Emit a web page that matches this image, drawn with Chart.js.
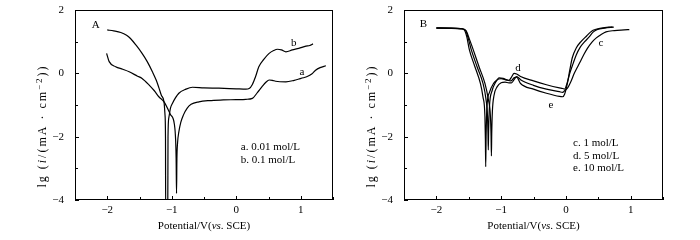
<!DOCTYPE html>
<html>
<head>
<meta charset="utf-8">
<script src="https://cdn.jsdelivr.net/npm/chart.js@4.4.0/dist/chart.umd.min.js"></script>
<style>
  body { margin: 0; background: #fff; }
  #wrap { position: relative; width: 700px; height: 240px; }
  canvas { position: absolute; top: 0; }
</style>
</head>
<body>
<div id="wrap">
  <canvas id="chart-a" width="350" height="240" style="left:0"></canvas>
  <canvas id="chart-b" width="350" height="240" style="left:350px"></canvas>
</div>
<script>
// --- Data (potential in V vs SCE, lg i) ---
const xMin = -2.5, xMax = 1.5, yMin = -4, yMax = 2;

// Panel A, curve a: 0.01 mol/L
const potA1 = [-2.01, -1.97, -1.87, -1.76, -1.66, -1.53, -1.46, -1.35, -1.27, -1.2, -1.12, -1.02, -0.96, -0.94, -0.932, -0.926, -0.92, -0.91, -0.89, -0.86, -0.82, -0.76, -0.7, -0.58, -0.42, -0.2, 0.0, 0.15, 0.25, 0.33, 0.4, 0.46, 0.51, 0.56, 0.61, 0.77, 0.9, 0.97, 1.04, 1.1, 1.17, 1.23, 1.3, 1.39];
const lgA1  = [0.63, 0.37, 0.21, 0.13, 0.05, -0.09, -0.16, -0.37, -0.55, -0.74, -0.9, -1.3, -1.6, -2.1, -2.7, -3.79, -2.7, -2.2, -1.85, -1.55, -1.32, -1.1, -0.98, -0.9, -0.86, -0.84, -0.83, -0.82, -0.79, -0.6, -0.42, -0.28, -0.21, -0.22, -0.25, -0.27, -0.22, -0.18, -0.14, -0.1, -0.02, 0.1, 0.18, 0.24];

// Panel A, curve b: 0.1 mol/L
const potA2 = [-2.0, -1.9, -1.79, -1.7, -1.64, -1.55, -1.46, -1.38, -1.3, -1.24, -1.2, -1.16, -1.12, -1.105, -1.097, -1.094, -1.062, -1.058, -1.045, -1.02, -0.99, -0.89, -0.78, -0.68, -0.5, -0.27, 0.0, 0.15, 0.2, 0.25, 0.3, 0.35, 0.43, 0.51, 0.58, 0.64, 0.7, 0.77, 0.87, 0.97, 1.08, 1.14, 1.19];
const lgA2  = [1.37, 1.34, 1.29, 1.2, 1.1, 0.88, 0.63, 0.37, 0.05, -0.22, -0.45, -0.7, -0.9, -1.3, -2.0, -4.5, -4.5, -2.0, -1.4, -1.1, -0.95, -0.63, -0.5, -0.44, -0.46, -0.47, -0.49, -0.5, -0.48, -0.35, -0.1, 0.21, 0.45, 0.63, 0.72, 0.76, 0.74, 0.68, 0.74, 0.79, 0.86, 0.88, 0.93];

// Panel B, curve c: 1 mol/L
const potB1 = [-2.0, -1.8, -1.6, -1.54, -1.49, -1.43, -1.34, -1.25, -1.2, -1.165, -1.155, -1.15, -1.145, -1.135, -1.11, -1.06, -1.0, -0.94, -0.88, -0.84, -0.8, -0.76, -0.7, -0.5, -0.3, -0.1, -0.05, -0.02, 0.03, 0.08, 0.13, 0.18, 0.23, 0.28, 0.33, 0.4, 0.47, 0.54, 0.62, 0.75, 0.9, 0.98];
const lgB1  = [1.43, 1.42, 1.4, 1.34, 1.08, 0.74, 0.2, -0.32, -0.8, -1.37, -2.0, -2.61, -1.9, -1.2, -0.7, -0.42, -0.3, -0.28, -0.3, -0.3, -0.2, -0.1, -0.2, -0.38, -0.5, -0.58, -0.6, -0.55, -0.45, -0.25, 0.0, 0.2, 0.4, 0.6, 0.78, 0.98, 1.12, 1.22, 1.31, 1.35, 1.37, 1.38];

// Panel B, curve d: 5 mol/L
const potB2 = [-2.0, -1.8, -1.6, -1.55, -1.51, -1.46, -1.37, -1.28, -1.235, -1.21, -1.203, -1.198, -1.193, -1.18, -1.14, -1.09, -1.04, -1.0, -0.94, -0.88, -0.84, -0.8, -0.76, -0.7, -0.5, -0.3, -0.1, -0.05, -0.02, 0.02, 0.06, 0.11, 0.16, 0.22, 0.29, 0.36, 0.42, 0.48, 0.6, 0.74];
const lgB2  = [1.44, 1.43, 1.41, 1.36, 1.12, 0.74, 0.2, -0.32, -0.8, -1.37, -1.9, -2.42, -1.8, -1.05, -0.55, -0.3, -0.18, -0.17, -0.2, -0.22, -0.12, 0.0, -0.02, -0.1, -0.24, -0.36, -0.46, -0.48, -0.5, -0.3, 0.0, 0.3, 0.58, 0.82, 1.0, 1.15, 1.3, 1.38, 1.43, 1.46];

// Panel B, curve e: 10 mol/L
const potB3 = [-2.0, -1.8, -1.62, -1.57, -1.53, -1.49, -1.41, -1.32, -1.28, -1.25, -1.243, -1.238, -1.232, -1.22, -1.18, -1.12, -1.06, -1.03, -0.97, -0.9, -0.85, -0.8, -0.76, -0.7, -0.5, -0.3, -0.1, -0.05, -0.02, 0.02, 0.06, 0.1, 0.16, 0.24, 0.32, 0.38, 0.42, 0.55, 0.72];
const lgB3  = [1.43, 1.43, 1.41, 1.37, 1.15, 0.74, 0.24, -0.32, -0.75, -1.37, -2.1, -2.95, -2.0, -1.1, -0.6, -0.33, -0.2, -0.14, -0.16, -0.22, -0.24, -0.14, -0.12, -0.32, -0.5, -0.63, -0.73, -0.74, -0.66, -0.35, 0.1, 0.5, 0.8, 1.02, 1.18, 1.3, 1.36, 1.43, 1.47];

const FONT = '"Liberation Serif", "Times New Roman", serif';
Chart.defaults.font.family = FONT;
Chart.defaults.color = '#000';

const fmt = v => (v < 0 ? '\u2212' + Math.abs(v) : String(v));
const toPts = (xs, ys) => xs.map((x, i) => ({ x, y: ys[i] }));

function curve(xs, ys) {
    return {
        data: toPts(xs, ys),
        borderColor: '#000',
        borderWidth: 1.2,
        pointRadius: 0,
        fill: false,
        cubicInterpolationMode: 'monotone'
    };
}

// frame, inward ticks, axis titles, notes
const decorPlugin = {
    id: 'decor',
    afterDraw(chart) {
        const { ctx, chartArea: a, scales: { x, y } } = chart;
        ctx.save();
        ctx.strokeStyle = '#000';
        ctx.lineWidth = 1;
        ctx.strokeRect(a.left + 0.5, a.top + 0.5, a.right - a.left - 1, a.bottom - a.top - 1);

        ctx.beginPath();
        x.ticks.forEach(t => {
            const px = Math.round(x.getPixelForValue(t.value)) + 0.5;
            const len = Number.isInteger(t.value) ? 4 : 3;
            ctx.moveTo(px, a.bottom);
            ctx.lineTo(px, a.bottom - len);
        });
        y.ticks.forEach(t => {
            const py = Math.round(y.getPixelForValue(t.value)) + 0.5;
            const len = t.value % 2 === 0 ? 4 : 3;
            ctx.moveTo(a.left, py);
            ctx.lineTo(a.left + len, py);
        });
        ctx.stroke();

        // x title
        const xParts = [['Potential/V(', ''], ['vs', 'italic '], ['. SCE)', '']];
        drawParts(ctx, xParts, (a.left + a.right) / 2, 226, 0, 11, 0);
        // y title (spaced out like the original)
        const yParts = [['lg (', ''], ['i', 'italic '], ['/(mA \u00b7 cm', ''], ['\u22122', 'sup'], ['))', '']];
        drawParts(ctx, yParts, a.left - 32, 126, -Math.PI / 2, 12, 2);

        // notes
        ctx.fillStyle = '#000';
        ctx.font = '11px ' + FONT;
        ctx.textBaseline = 'middle';
        chart.options.plugins.decor.notes.forEach(n => {
            ctx.textAlign = n.align || 'center';
            ctx.fillText(n.text, x.getPixelForValue(n.x), y.getPixelForValue(n.y));
        });
        ctx.restore();
    }
};

function drawParts(ctx, parts, cx, cy, rot, size, spacing) {
    ctx.save();
    ctx.translate(cx, cy);
    ctx.rotate(rot);
    ctx.fillStyle = '#000';
    ctx.textBaseline = 'middle';
    ctx.textAlign = 'left';
    ctx.letterSpacing = spacing + 'px';
    const fontOf = p => p[1] === 'sup' ? Math.round(size * 0.72) + 'px ' + FONT : p[1] + size + 'px ' + FONT;
    let total = 0;
    parts.forEach(p => { ctx.font = fontOf(p); total += ctx.measureText(p[0]).width; });
    let cur = -total / 2;
    parts.forEach(p => {
        ctx.font = fontOf(p);
        ctx.fillText(p[0], cur, p[1] === 'sup' ? -size * 0.3 : 0);
        cur += ctx.measureText(p[0]).width;
    });
    ctx.restore();
}

function makeChart(id, datasets, axisW, padRight, notes) {
    return new Chart(document.getElementById(id), {
        type: 'line',
        data: { datasets },
        options: {
            responsive: false,
            animation: false,
            devicePixelRatio: 1,
            layout: { padding: { top: 10, right: padRight, bottom: 0, left: 0 } },
            plugins: { legend: { display: false }, tooltip: { enabled: false }, decor: { notes } },
            scales: {
                x: {
                    type: 'linear', min: xMin, max: xMax,
                    grid: { display: false }, border: { display: false },
                    ticks: {
                        stepSize: 0.5, autoSkip: false, maxRotation: 0, padding: -4,
                        font: { size: 11 }, color: '#000',
                        callback: v => (Number.isInteger(v) && v > xMin && v < xMax ? fmt(v) : '')
                    },
                    afterFit: s => { s.height = 40; }
                },
                y: {
                    type: 'linear', min: yMin, max: yMax,
                    grid: { display: false }, border: { display: false },
                    ticks: {
                        stepSize: 1, autoSkip: false, padding: 3,
                        font: { size: 11 }, color: '#000',
                        callback: v => (v % 2 === 0 ? fmt(v) : '')
                    },
                    afterFit: s => { s.width = axisW; }
                }
            }
        },
        plugins: [decorPlugin]
    });
}

makeChart('chart-a', [curve(potA1, lgA1), curve(potA2, lgA2)], 75, 17, [
    { text: 'A', x: -2.18, y: 1.52 },
    { text: 'b', x: 0.89, y: 0.97 },
    { text: 'a', x: 1.02, y: 0.05 },
    { text: 'a. 0.01 mol/L', x: 0.07, y: -2.33, align: 'left' },
    { text: 'b. 0.1 mol/L', x: 0.07, y: -2.73, align: 'left' }
]);

makeChart('chart-b', [curve(potB1, lgB1), curve(potB2, lgB2), curve(potB3, lgB3)], 54, 37, [
    { text: 'B', x: -2.2, y: 1.55 },
    { text: 'd', x: -0.74, y: 0.16 },
    { text: 'c', x: 0.54, y: 0.97 },
    { text: 'e', x: -0.23, y: -1.0 },
    { text: 'c. 1 mol/L', x: 0.11, y: -2.2, align: 'left' },
    { text: 'd. 5 mol/L', x: 0.11, y: -2.6, align: 'left' },
    { text: 'e. 10 mol/L', x: 0.11, y: -3.0, align: 'left' }
]);
</script>
</body>
</html>
